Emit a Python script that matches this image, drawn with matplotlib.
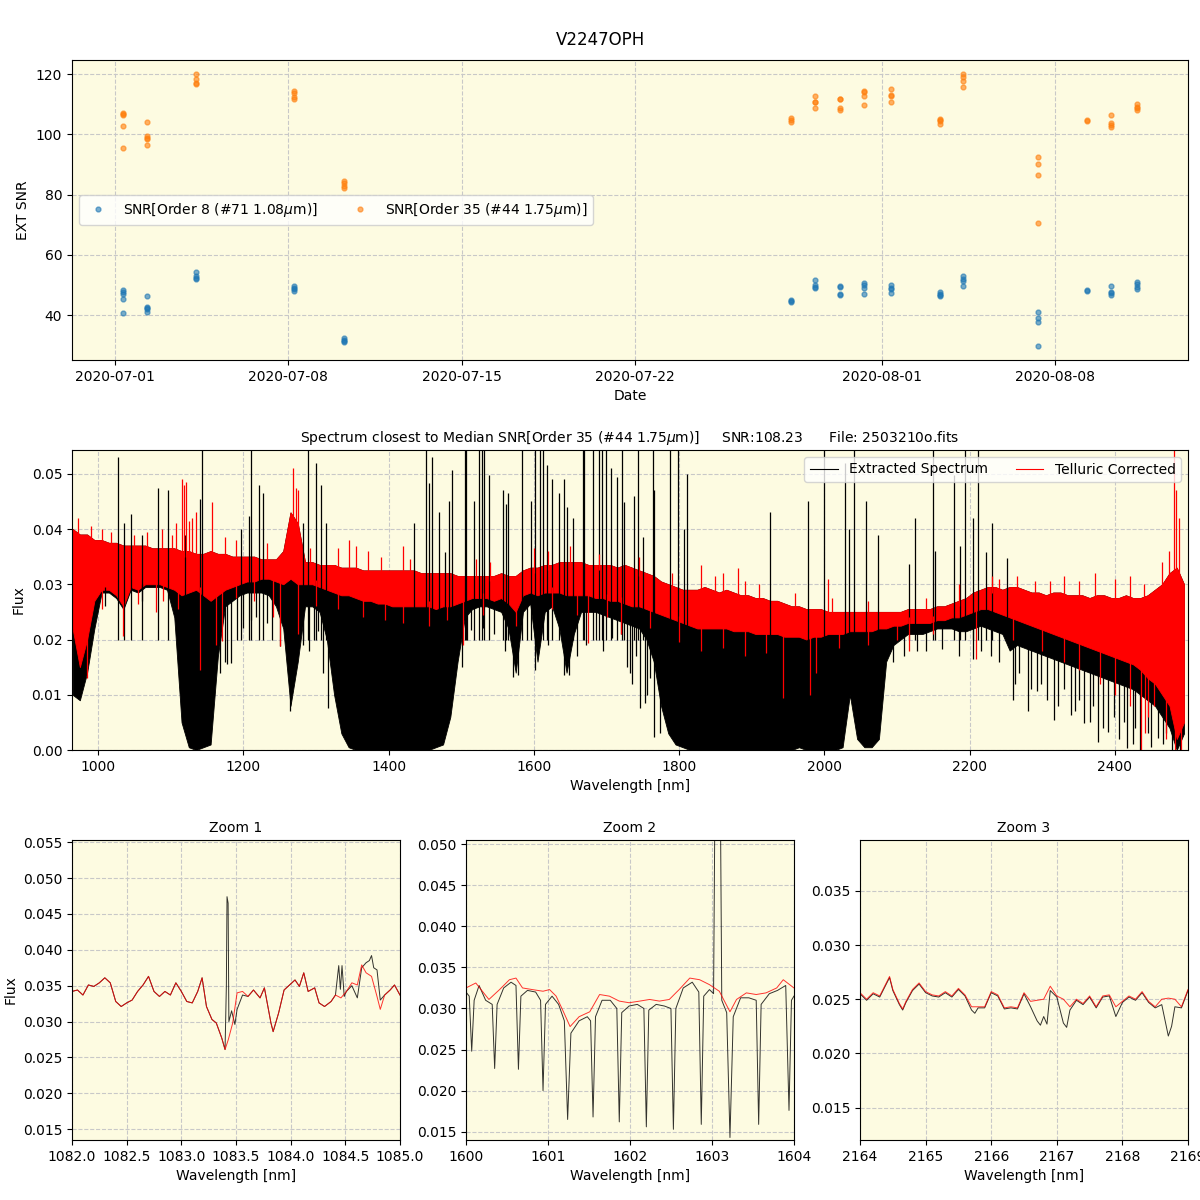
import numpy as np
import pandas as pd
import matplotlib
matplotlib.use("Agg")
import matplotlib.pyplot as plt
import matplotlib.dates as mdates
from matplotlib.lines import Line2D

BG = "#fdfbe1"

# ---- SNR time series (one list per night) ----
NIGHTS = ["2020-07-01 08:00", "2020-07-02 07:12", "2020-07-04 06:30", "2020-07-08 06:00",
          "2020-07-10 06:00", "2020-07-28 07:12", "2020-07-29 07:12", "2020-07-30 07:00",
          "2020-07-31 06:43", "2020-08-01 08:00", "2020-08-03 07:40", "2020-08-04 06:00",
          "2020-08-07 06:43", "2020-08-09 07:00", "2020-08-10 06:15", "2020-08-11 07:00"]
SNR_ORDER8 = [[48.3, 47.8, 47.1, 45.2, 40.6], [46.2, 42.6, 42.2, 42.0, 41.2], [54.2, 53.1, 52.2, 51.9],
              [49.7, 49.1, 48.6, 48.1], [32.4, 31.9, 31.5, 31.1], [45.0, 44.8, 44.3],
              [51.7, 50.0, 49.4, 48.9], [49.6, 49.2, 46.9, 46.6], [50.6, 50.1, 48.9, 46.9],
              [50.0, 49.1, 48.7, 47.2], [47.6, 47.1, 46.6, 46.2], [52.9, 52.0, 51.4, 49.6],
              [40.9, 38.9, 37.8, 29.6], [48.4, 47.9], [49.7, 47.7, 47.2, 46.7], [51.0, 50.2, 49.3, 48.6]]
SNR_ORDER35 = [[107.2, 106.7, 106.4, 102.9, 95.6], [104.2, 99.4, 98.9, 98.6, 96.6],
               [120.2, 118.3, 117.0, 116.7], [114.3, 113.6, 112.3, 111.9], [84.6, 83.7, 83.0, 82.2],
               [105.6, 104.8, 104.2], [112.9, 110.8, 110.6, 108.9], [111.9, 111.6, 108.6, 108.2],
               [114.4, 114.0, 112.9, 109.6], [115.0, 113.2, 112.8, 110.9], [105.1, 104.8, 104.4, 103.6],
               [120.2, 118.9, 117.6, 115.6], [92.6, 90.2, 86.6, 70.6], [104.8, 104.4],
               [106.6, 103.7, 103.0, 102.3], [110.0, 109.2, 108.7, 108.2]]

# ---- full spectrum, 10 nm bins from 965 nm, flux in 1e-3 units ----
WAVE_START, WAVE_STEP = 965, 10
UPPER = [40, 39, 39, 38, 38, 37.5, 37.5, 37, 37, 37,
         37, 36.5, 36.5, 36.5, 36.5, 36, 36, 35.5, 35.5, 36,
         35.5, 35.5, 35, 35, 35, 35, 34.5, 34.5, 34.5, 36,
         43, 41, 34, 34, 33.5, 33.5, 33.5, 33, 33, 33,
         32.5, 32.5, 32.5, 32.5, 32.5, 32.5, 32.5, 32.5, 32, 32,
         32, 32, 32, 31.5, 31.5, 31.5, 31.5, 31.5, 31.5, 32,
         31.5, 31.5, 32.5, 33, 33, 33.5, 33.5, 34, 34, 34,
         34, 33.5, 33.5, 33.5, 33.5, 33, 33.5, 33, 32.5, 32,
         31.5, 30.5, 30, 29.5, 29, 29, 29, 29.5, 29, 28.5,
         29, 28.5, 28, 28, 27.5, 27.5, 27, 27, 26.5, 26,
         26, 25.5, 25.5, 25.5, 25, 25, 25, 25, 25, 25,
         25, 25, 25, 25, 25, 25.5, 25.5, 25.5, 25.5, 26,
         26, 26.5, 27, 27.5, 28.5, 29, 29.5, 29.5, 29, 29.5,
         29.5, 29, 28.5, 28.5, 28, 28.5, 28.5, 28, 28, 28,
         27.5, 28, 28, 27.5, 27.5, 28, 27.5, 27.5, 28, 29,
         30, 32, 33, 30]
RED_LO = [22, 15, 20, 27, 29, 29, 28, 26, 29.5, 29,
          30, 30, 30, 29.5, 29, 28, 28.5, 29, 28, 27,
          28, 29, 29.5, 30, 30.5, 30.5, 31, 31, 30.5, 30,
          31, 30, 30, 30, 29.5, 29, 28.5, 28, 28, 27.5,
          27, 27, 26.5, 26.5, 26, 26, 26, 26, 26, 26,
          25.5, 26, 26, 26.5, 27, 27.5, 27.5, 27.5, 27, 27.5,
          26.5, 25, 28, 28.5, 28, 28.5, 28.5, 28.5, 28, 28,
          28, 28, 27.5, 27.5, 27, 27, 26.5, 26, 26, 25.5,
          25, 24.5, 24, 23.5, 23, 22.5, 22, 22, 22, 22,
          22, 21.5, 21.5, 21.5, 21, 21, 21, 21, 20.5, 20.5,
          20.5, 20, 20.5, 20.5, 21, 21, 21, 21.5, 21.5, 21.5,
          21.5, 22, 22, 22.5, 22.5, 23, 23, 23, 23, 23.5,
          23.5, 24, 24, 24.5, 25, 25.5, 25.5, 25, 24.5, 24,
          23.5, 23, 22.5, 22, 21.5, 21, 20.5, 20, 19.5, 19,
          18.5, 18, 17.5, 17, 16.5, 16, 15.5, 14.5, 13, 12,
          10, 8, 2, 5]
BLK_LO = [10, 9, 14, 22, 28.5, 28.5, 27.5, 25.5, 29, 28.5,
          29.5, 29.5, 29.5, 29, 24, 5, 0.5, 0, 0.5, 1,
          17, 26, 27, 28, 28.5, 28.5, 28.5, 28, 26, 22,
          8, 16, 26, 26, 25, 20, 10, 3, 0.5, 0,
          0, 0, 0, 0, 0, 0, 0, 0, 0, 0,
          0.5, 1, 6, 16, 24, 25.5, 26, 26, 25.5, 25,
          22, 14, 25, 26.5, 16, 25, 26, 22, 14, 21,
          25, 25, 25, 24.5, 24, 23.5, 23, 22.5, 22, 20,
          16, 8, 3, 1, 0.5, 0, 0, 0, 0, 0,
          0, 0, 0, 0, 0, 0, 0, 0, 0, 0,
          0.5, 0, 0, 0, 0, 0, 0.5, 10, 2, 0.5,
          0.5, 2, 16, 19, 20, 21, 21, 21, 21.5, 22,
          22, 22, 21.5, 21.5, 22, 22.5, 22, 21.5, 21, 18,
          19, 18.5, 18, 17.5, 17, 16.5, 16, 15.5, 15, 14.5,
          14, 13.5, 13, 12.5, 12, 11.5, 11, 10, 9, 8,
          6, 4, 0, 3]

# emission spikes of the extracted spectrum (nm, peak); 60 = off the top
BLK_SPIKE_WAVE = [1028, 1036, 1046, 1060, 1083, 1097, 1120, 1140, 1143, 1197, 1208, 1211, 1222, 1227,
                  1282, 1289, 1300, 1307, 1314, 1435, 1452, 1456, 1460, 1470, 1478, 1483, 1488, 1505,
                  1507, 1518, 1524, 1528, 1532, 1538, 1558, 1562, 1564, 1583, 1596, 1602, 1608, 1613,
                  1618, 1625, 1634, 1642, 1646, 1654, 1667, 1669, 1681, 1690, 1694, 1699, 1706, 1714,
                  1721, 1724, 1738, 1744, 1750, 1764, 1766, 1788, 1799, 1806, 1811, 1925, 1977, 2000,
                  2028, 2034, 2041, 2057, 2074, 2116, 2124, 2150, 2152, 2179, 2186, 2194, 2204, 2211,
                  2223, 2230, 2251]
BLK_SPIKE_PEAK = [53, 41, 42.7, 39, 47.5, 47, 39, 45.5, 60, 40, 42.4, 60, 48, 46.5,
                  41, 60, 52, 48, 41, 41, 60, 48.3, 53, 43, 35.8, 45, 50.6, 60,
                  60, 45, 60, 60, 60, 49.7, 47, 44.5, 46.5, 60, 45, 60, 60, 60,
                  51.5, 49, 46.5, 49, 44, 42, 60, 60, 60, 60, 60, 60, 51, 49.5,
                  60, 44.8, 46, 60, 38.5, 60, 47, 60, 60, 40, 50, 43, 45, 60,
                  52, 40, 60, 45, 39, 33.6, 42, 60, 36, 49.7, 37, 60, 42, 60,
                  35.8, 41, 34.8]
# absorption strokes of the extracted spectrum below its dense band
BLK_DIP_WAVE = [1010, 1060, 1168, 1175, 1177, 1183, 1191, 1200, 1211, 1218, 1233, 1240, 1250, 1264,
                1282, 1290, 1297, 1303, 1310, 1316, 1501, 1508, 1514, 1530, 1545, 1560, 1571, 1578,
                1590, 1601, 1620, 1642, 1649, 1660, 1672, 1685, 1695, 1708, 1720, 1728, 1732, 1735,
                1741, 1746, 1753, 1756, 1760, 1766, 1773, 2095, 2110, 2128, 2140, 2162, 2185, 2205,
                2215, 2229, 2240, 2259, 2262, 2268, 2280, 2285, 2293, 2298, 2306, 2316, 2322, 2330,
                2339, 2345, 2350, 2358, 2365, 2370, 2376, 2383, 2390, 2398, 2405, 2412, 2417, 2425,
                2428, 2434, 2445, 2450, 2459, 2466, 2470, 2478, 2489]
BLK_DIP_MIN = [26, 27, 14, 16, 15.5, 15.8, 20, 22, 23.6, 24, 23, 20, 18.8, 7,
               19, 18, 20, 21.5, 14, 7.6, 15, 20, 21.8, 22, 21, 18, 13.3, 13.5,
               20, 14.5, 19, 13.6, 13.6, 17, 19, 20, 18, 20.3, 21, 15, 14, 12,
               17, 7.6, 8.5, 10, 13, 2.4, 3, 16, 17, 17.9, 18, 18.2, 17, 16.4,
               18, 17, 16, 9, 12, 14, 7, 11, 10.6, 12, 9, 5.5, 8, 11,
               6.4, 7, 9, 4.8, 5, 8, 1.5, 4, 3.3, 6, 2, 5, 0.3, 1,
               4, 0, 3, 0.5, 2.1, 1, 3, 0, 0]
RED_SPIKE_WAVE = [972, 990, 1005, 1018, 1050, 1068, 1088, 1102, 1108, 1115, 1118, 1121, 1125, 1130,
                  1135, 1157, 1175, 1190, 1232, 1260, 1268, 1273, 1276, 1292, 1330, 1345, 1355, 1372,
                  1390, 1420, 1430, 1520, 1540, 1600, 1620, 1650, 1690, 1745, 1790, 1830, 1850, 1860,
                  1881, 1890, 1910, 1960, 2005, 2010, 2060, 2140, 2185, 2230, 2240, 2265, 2290, 2310,
                  2330, 2350, 2372, 2400, 2420, 2440, 2465, 2475, 2481, 2484, 2488]
RED_SPIKE_PEAK = [42, 40.5, 40, 39.5, 39, 39.5, 40, 39, 41, 49, 48, 48.5, 41.5, 42,
                  43, 44.8, 38.5, 38, 37.5, 38, 51, 47.5, 47, 36.5, 36.5, 38, 37, 36,
                  35, 37, 34.5, 34.5, 34, 36.5, 36, 37, 35.5, 35, 32, 33.5, 31.5, 32,
                  33, 30.5, 30, 28.5, 31, 27.5, 27, 27.5, 30, 31.5, 31, 31.5, 30.5, 30.5,
                  31.5, 30.5, 32, 31, 31.5, 30, 34, 36, 60, 47, 42]
RED_DIP_WAVE = [985, 1005, 1035, 1055, 1080, 1090, 1110, 1140, 1163, 1171, 1190, 1215, 1241, 1250,
                1275, 1300, 1330, 1365, 1395, 1420, 1455, 1480, 1503, 1530, 1576, 1625, 1660, 1674,
                1700, 1720, 1760, 1800, 1830, 1860, 1890, 1920, 1943, 1980, 1989, 2020, 2060, 2100,
                2116, 2150, 2208, 2260, 2300, 2330, 2350, 2380, 2400, 2420, 2436, 2441, 2445, 2454,
                2470, 2482, 2491]
RED_DIP_MIN = [13, 25.5, 20.6, 26.5, 25, 27, 25.5, 14.5, 19, 19.7, 27.5, 27, 24, 18.8,
               21, 26, 25.5, 24, 23.5, 23, 22.5, 23.5, 19, 24.5, 22.4, 25.5, 24.5, 19.4,
               24, 21, 22, 19.5, 18, 18.5, 17, 17.5, 9.4, 10, 14, 18.5, 19, 20,
               17.9, 21, 16.4, 20, 18, 16, 14.5, 12, 10, 8, 0, 3, 6, 8,
               2, 0, 0]

# ---- zoom 1 (He I 1083) ----
Z1_RED_WAVE = [1082.00, 1082.05, 1082.10, 1082.15, 1082.20, 1082.25, 1082.30, 1082.35, 1082.40, 1082.45,
               1082.50, 1082.55, 1082.60, 1082.65, 1082.70, 1082.75, 1082.80, 1082.85, 1082.90, 1082.95,
               1083.00, 1083.05, 1083.10, 1083.15, 1083.19, 1083.23, 1083.28, 1083.32, 1083.37, 1083.40,
               1083.43, 1083.47, 1083.51, 1083.56, 1083.61, 1083.66, 1083.72, 1083.76, 1083.82, 1083.84,
               1083.89, 1083.94, 1083.99, 1084.04, 1084.08, 1084.12, 1084.16, 1084.22, 1084.26, 1084.31,
               1084.37, 1084.41, 1084.46, 1084.51, 1084.56, 1084.61, 1084.65, 1084.69, 1084.74, 1084.79,
               1084.82, 1084.86, 1084.91, 1084.95, 1085.00]
Z1_RED = [34.2, 34.4, 33.7, 35.1, 34.9, 35.4, 36.1, 35.4, 32.8, 32.1,
          32.6, 33.0, 34.2, 35.1, 36.3, 34.2, 33.5, 34.2, 33.7, 35.4,
          34.2, 32.8, 32.6, 34.2, 36.1, 32.1, 30.3, 29.8, 27.7, 26.1,
          27.5, 29.8, 34.0, 34.2, 33.5, 34.4, 33.3, 34.7, 29.8, 28.6,
          31.2, 34.4, 35.1, 35.8, 34.9, 36.8, 34.2, 34.7, 32.6, 32.1,
          32.8, 33.7, 33.3, 34.2, 35.4, 35.1, 37.9, 36.8, 36.3, 33.5,
          31.7, 33.7, 34.4, 35.1, 33.7]
Z1_BLK_WAVE = [1082.00, 1082.05, 1082.10, 1082.15, 1082.20, 1082.25, 1082.30, 1082.35, 1082.40, 1082.45,
               1082.50, 1082.55, 1082.60, 1082.65, 1082.70, 1082.75, 1082.80, 1082.85, 1082.90, 1082.95,
               1083.00, 1083.05, 1083.10, 1083.15, 1083.19, 1083.23, 1083.28, 1083.32, 1083.37, 1083.40,
               1083.412, 1083.418, 1083.428, 1083.435, 1083.46, 1083.49, 1083.51, 1083.56, 1083.61, 1083.66,
               1083.72, 1083.76, 1083.82, 1083.84, 1083.89, 1083.94, 1083.99, 1084.04, 1084.08, 1084.12,
               1084.16, 1084.22, 1084.26, 1084.31, 1084.37, 1084.41, 1084.44, 1084.455, 1084.47, 1084.49,
               1084.51, 1084.56, 1084.61, 1084.65, 1084.69, 1084.72, 1084.74, 1084.76, 1084.79, 1084.82,
               1084.86, 1084.91, 1084.95, 1085.00]
Z1_BLK = [34.2, 34.4, 33.7, 35.1, 34.9, 35.4, 36.1, 35.4, 32.8, 32.1,
          32.6, 33.0, 34.2, 35.1, 36.3, 34.2, 33.5, 34.2, 33.7, 35.4,
          34.2, 32.8, 32.6, 34.2, 36.1, 32.1, 30.3, 29.8, 27.7, 26.1,
          35.0, 47.4, 46.5, 30.0, 31.5, 29.6, 31.7, 33.7, 33.5, 34.4,
          33.3, 34.7, 29.8, 28.6, 31.2, 34.4, 35.1, 35.8, 34.9, 36.8,
          34.2, 34.7, 32.6, 32.1, 32.8, 33.7, 37.8, 34.5, 37.8, 33.5,
          34.2, 35.0, 33.3, 37.5, 38.2, 38.5, 39.2, 37.5, 37.2, 33.0,
          33.7, 34.4, 35.1, 33.7]

# ---- zoom 2 (1600-1604 nm) ----
Z2_RED_WAVE = [1600.00, 1600.12, 1600.20, 1600.28, 1600.41, 1600.53, 1600.61, 1600.69, 1600.81, 1600.94,
               1601.02, 1601.10, 1601.18, 1601.27, 1601.38, 1601.51, 1601.63, 1601.75, 1601.87, 1601.99,
               1602.12, 1602.24, 1602.36, 1602.48, 1602.60, 1602.73, 1602.85, 1602.97, 1603.09, 1603.22,
               1603.30, 1603.42, 1603.54, 1603.66, 1603.79, 1603.87, 1604.00]
Z2_RED = [32.5, 33.1, 32.1, 31.1, 32.3, 33.5, 33.7, 32.5, 32.3, 32.1,
          32.3, 31.5, 29.8, 27.8, 29.0, 29.6, 31.7, 31.5, 30.9, 30.7,
          30.9, 31.1, 30.9, 31.1, 32.3, 33.7, 33.5, 32.9, 32.1, 29.6,
          31.1, 31.9, 31.7, 31.9, 32.5, 33.5, 32.5]
Z2_BLK_WAVE = [1600.00, 1600.04, 1600.07, 1600.10, 1600.16, 1600.24, 1600.32, 1600.35, 1600.38, 1600.46,
               1600.55, 1600.61, 1600.64, 1600.67, 1600.75, 1600.85, 1600.91, 1600.94, 1600.97, 1601.05,
               1601.13, 1601.20, 1601.24, 1601.28, 1601.38, 1601.48, 1601.52, 1601.55, 1601.58, 1601.66,
               1601.76, 1601.84, 1601.87, 1601.90, 1601.99, 1602.09, 1602.17, 1602.20, 1602.23, 1602.32,
               1602.42, 1602.50, 1602.53, 1602.56, 1602.65, 1602.76, 1602.84, 1602.87, 1602.90, 1602.97,
               1603.02, 1603.04, 1603.10, 1603.12, 1603.18, 1603.22, 1603.26, 1603.35, 1603.45, 1603.54,
               1603.57, 1603.60, 1603.70, 1603.80, 1603.90, 1603.94, 1603.97, 1604.00]
Z2_BLK = [32.0, 31.5, 24.8, 31.0, 32.8, 31.0, 30.5, 22.7, 30.5, 32.5,
          33.2, 32.8, 22.6, 31.5, 32.2, 32.0, 31.0, 20.0, 30.5, 31.5,
          30.5, 28.5, 16.5, 27.0, 28.5, 29.0, 28.5, 16.8, 29.0, 31.0,
          31.0, 30.0, 16.2, 29.5, 30.3, 30.5, 30.0, 15.6, 29.8, 30.5,
          30.3, 30.0, 15.3, 30.0, 32.5, 33.2, 32.0, 15.9, 31.5, 32.3,
          31.8, 60.0, 60.0, 31.0, 29.5, 14.3, 29.0, 31.3, 31.3, 31.0,
          15.9, 30.5, 31.8, 32.2, 32.8, 17.6, 31.0, 31.5]

# ---- zoom 3 (2164-2169 nm) ----
Z3_RED_WAVE = [2164.0, 2164.1, 2164.2, 2164.3, 2164.4, 2164.45, 2164.5, 2164.6, 2164.65, 2164.7,
               2164.8, 2164.9, 2165.0, 2165.1, 2165.2, 2165.3, 2165.4, 2165.5, 2165.6, 2165.7,
               2165.8, 2165.9, 2166.0, 2166.1, 2166.2, 2166.3, 2166.4, 2166.5, 2166.6, 2166.7,
               2166.8, 2166.9, 2167.0, 2167.1, 2167.2, 2167.3, 2167.4, 2167.5, 2167.6, 2167.7,
               2167.8, 2167.9, 2168.0, 2168.1, 2168.2, 2168.3, 2168.4, 2168.5, 2168.6, 2168.7,
               2168.8, 2168.9, 2169.0]
Z3_RED = [25.6, 25.0, 25.6, 25.3, 26.5, 27.1, 25.9, 24.6, 24.1, 24.8,
          25.9, 26.5, 25.7, 25.4, 25.3, 25.7, 25.3, 26.0, 25.4, 24.3,
          24.3, 24.3, 25.7, 25.4, 24.2, 24.3, 24.2, 25.6, 24.8, 24.9,
          25.0, 26.2, 25.3, 25.0, 24.3, 25.0, 24.6, 25.3, 24.3, 25.3,
          25.4, 24.3, 24.8, 25.3, 25.0, 25.7, 24.8, 24.3, 25.0, 25.1,
          25.0, 24.3, 25.9]
Z3_BLK_WAVE = [2164.0, 2164.1, 2164.2, 2164.3, 2164.4, 2164.45, 2164.5, 2164.6, 2164.65, 2164.7,
               2164.8, 2164.9, 2165.0, 2165.1, 2165.2, 2165.3, 2165.4, 2165.5, 2165.6, 2165.7,
               2165.75, 2165.8, 2165.9, 2166.0, 2166.1, 2166.2, 2166.3, 2166.4, 2166.5, 2166.6,
               2166.7, 2166.75, 2166.8, 2166.85, 2166.9, 2167.0, 2167.1, 2167.15, 2167.2, 2167.3,
               2167.4, 2167.5, 2167.6, 2167.7, 2167.8, 2167.9, 2168.0, 2168.1, 2168.2, 2168.3,
               2168.4, 2168.5, 2168.6, 2168.7, 2168.75, 2168.8, 2168.9, 2169.0]
Z3_BLK = [25.5, 24.9, 25.5, 25.2, 26.4, 27.0, 25.8, 24.5, 24.0, 24.7,
          25.8, 26.4, 25.6, 25.3, 25.2, 25.6, 25.2, 25.9, 25.3, 24.0,
          23.7, 24.2, 24.2, 25.6, 25.3, 24.1, 24.2, 24.1, 25.5, 24.3,
          23.0, 22.6, 23.4, 22.7, 25.8, 25.2, 22.8, 22.4, 24.0, 24.9,
          24.5, 25.2, 24.2, 25.2, 25.3, 23.4, 24.7, 25.2, 24.9, 25.6,
          24.7, 24.2, 24.5, 21.6, 22.5, 24.3, 24.2, 25.8]


def style(ax):
    ax.set_facecolor(BG)
    ax.grid(True, linestyle="--", color="#c8c8c8", linewidth=0.8)
    ax.set_axisbelow(True)


fig = plt.figure(figsize=(12, 12), dpi=100)
fig.suptitle("V2247OPH", y=0.974, fontsize=12)

# ---- SNR panel ----
ax0 = fig.add_axes([0.06, 0.70, 0.93, 0.25])
style(ax0)
d8, v8, d35, v35 = [], [], [], []
for night, a, b in zip(NIGHTS, SNR_ORDER8, SNR_ORDER35):
    t = pd.Timestamp(night)
    d8 += [t] * len(a)
    v8 += a
    d35 += [t] * len(b)
    v35 += b
ax0.plot(d8, v8, "o", ms=3.5, alpha=0.6, color="#1f77b4", label=r"SNR[Order 8 (#71 1.08$\mu$m)]")
ax0.plot(d35, v35, "o", ms=3.5, alpha=0.6, color="#ff7f0e", label=r"SNR[Order 35 (#44 1.75$\mu$m)]")
ax0.set_xlim(pd.Timestamp("2020-06-29 06:15"), pd.Timestamp("2020-08-13 08:30"))
ax0.set_ylim(25.1, 124.7)
ax0.xaxis.set_major_locator(mdates.DayLocator(bymonthday=[1, 8, 15, 22]))
ax0.xaxis.set_major_formatter(mdates.DateFormatter("%Y-%m-%d"))
ax0.set_xlabel("Date")
ax0.set_ylabel("EXT SNR")
ax0.legend(loc="center left", ncol=2)

# ---- full spectrum ----
ax1 = fig.add_axes([0.06, 0.375, 0.93, 0.25])
style(ax1)
wave = WAVE_START + WAVE_STEP * np.arange(len(UPPER))
upper = np.array(UPPER) * 1e-3
red_lo = np.array(RED_LO) * 1e-3
blk_lo = np.array(BLK_LO) * 1e-3

ax1.fill_between(wave, blk_lo, upper, color="k", linewidth=0.6)
ax1.vlines(BLK_SPIKE_WAVE, 0.02, np.array(BLK_SPIKE_PEAK) * 1e-3, color="k", lw=0.9)
ax1.vlines(BLK_DIP_WAVE, np.array(BLK_DIP_MIN) * 1e-3,
           np.interp(BLK_DIP_WAVE, wave, blk_lo) + 0.001, color="k", lw=0.9)
ax1.fill_between(wave, red_lo, upper, color="red", linewidth=0.6)
ax1.vlines(RED_SPIKE_WAVE, np.interp(RED_SPIKE_WAVE, wave, upper) - 0.001,
           np.array(RED_SPIKE_PEAK) * 1e-3, color="red", lw=0.9)
ax1.vlines(RED_DIP_WAVE, np.array(RED_DIP_MIN) * 1e-3,
           np.interp(RED_DIP_WAVE, wave, red_lo) + 0.001, color="red", lw=0.9)
ax1.set_xlim(964.2, 2500.5)
ax1.set_ylim(0, 0.0543)
ax1.set_xlabel("Wavelength [nm]")
ax1.set_ylabel("Flux")
ax1.set_title(r"Spectrum closest to Median SNR[Order 35 (#44 1.75$\mu$m)]     SNR:108.23      File: 2503210o.fits",
              fontsize=10)
handles = [Line2D([], [], color="k", lw=0.8), Line2D([], [], color="red", lw=0.8)]
ax1.legend(handles, ["Extracted Spectrum", "Telluric Corrected"], loc="upper right", ncol=2)

# ---- zoom panels ----
zooms = [
    ("Zoom 1", Z1_BLK_WAVE, Z1_BLK, Z1_RED_WAVE, Z1_RED, (1082, 1085), (0.0135, 0.0553), 0.06),
    ("Zoom 2", Z2_BLK_WAVE, Z2_BLK, Z2_RED_WAVE, Z2_RED, (1600, 1604), (0.0140, 0.0505), 0.3883),
    ("Zoom 3", Z3_BLK_WAVE, Z3_BLK, Z3_RED_WAVE, Z3_RED, (2164, 2169), (0.0120, 0.0397), 0.7167),
]
for i, (title, bw, bf, rw, rf, xl, yl, left) in enumerate(zooms):
    ax = fig.add_axes([left, 0.05, 0.2733, 0.25])
    style(ax)
    ax.plot(bw, np.array(bf) * 1e-3, color="k", lw=0.7, alpha=0.8)
    ax.plot(rw, np.array(rf) * 1e-3, color="red", lw=0.7, alpha=0.8)
    ax.set_xlim(*xl)
    ax.set_ylim(*yl)
    ax.set_title(title, fontsize=10)
    ax.set_xlabel("Wavelength [nm]")
    if i == 0:
        ax.set_ylabel("Flux")

fig.savefig("out.png", dpi=100)
